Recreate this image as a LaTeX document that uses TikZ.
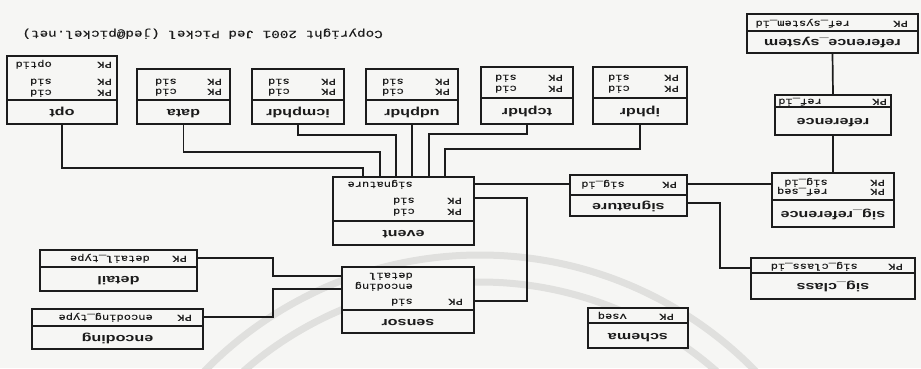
\documentclass[tikz,border=0pt]{standalone}
\usepackage{fontspec}
\newfontfamily\ttlfont[FakeStretch=1.4]{Liberation Sans}
\newfontfamily\fldfont[FakeStretch=1.3,FakeBold=0.4]{Liberation Mono}
\definecolor{bgc}{RGB}{246,246,244}
\definecolor{ink}{RGB}{28,28,28}
\definecolor{wmc}{RGB}{224,224,222}
\tikzset{
  tbl/.style={draw=ink, line width=1.7pt, inner sep=0pt, fill=bgc},
  ttl/.style={font=\ttlfont\bfseries\fontsize{11.5}{12}\selectfont, rotate=180, anchor=mid, inner sep=0pt, text=ink},
  fld/.style={font=\fldfont\fontsize{9.3}{10}\selectfont, rotate=180, anchor=mid west, inner sep=0pt, text=ink},
  conn/.style={draw=ink, line width=1.7pt},
  divline/.style={draw=ink, line width=1.7pt},
  wmline/.style={draw=wmc, line width=7pt},
  wmray/.style={draw=wmc, line width=3pt},
}
% name, x1, y1, x2, y2, ydiv, title
\newcommand\mktable[7]{%
  \node[tbl, minimum width={#4-#2}, minimum height={#5-#3}] (#1) at ({(#2+#4)/2},{(#3+#5)/2}) {};
  \draw[divline] (#2,#6) -- (#4,#6);
  \node[ttl] (#1-t) at ({(#2+#4)/2},{(#6+#5)/2}) {#7};
}
% name, xPK, xfield, y, field
\newcommand\pkrow[5]{%
  \node[fld] (#1-pk) at (#2,#4) {PK};
  \node[fld] (#1-f) at (#3,#4) {#5};
}
\begin{document}
\begin{tikzpicture}[x=1pt,y=-1pt]
\fill[bgc] (0,0) rectangle (921,368);
\useasboundingbox (0,0) rectangle (921,368);

% faint watermark
\begin{scope}
\clip (0,0) rectangle (921,368);
\draw[wmline] (480,640) circle [radius=385];
\draw[wmline] (480,640) circle [radius=358];
\foreach \a in {22,34,...,158} {
  \draw[wmray] (480,470) ++(\a:100) -- ++(\a:45);
}
\end{scope}

% copyright
\node[fld, font=\fldfont\fontsize{11}{12}\selectfont] (copy) at (383,33) {Copyright 2001 Jed Pickel (jed@pickel.net)};

% top row tables
\mktable{opt}{7}{56}{117}{124}{100}{opt}
\pkrow{opt1}{112}{52}{64}{optid}
\pkrow{opt2}{112}{52}{81}{sid}
\pkrow{opt3}{112}{52}{92}{cid}

\mktable{data}{137}{69}{230}{124}{100}{data}
\pkrow{data1}{222}{177}{81}{sid}
\pkrow{data2}{222}{177}{91}{cid}

\mktable{icmphdr}{252}{69}{344}{124}{100}{icmphdr}
\pkrow{icmp1}{336}{290}{81}{sid}
\pkrow{icmp2}{336}{290}{91}{cid}

\mktable{udphdr}{366}{69}{458}{124}{100}{udphdr}
\pkrow{udp1}{450}{404}{81}{sid}
\pkrow{udp2}{450}{404}{91}{cid}

\mktable{tcphdr}{481}{67}{573}{124}{98}{tcphdr}
\pkrow{tcp1}{563}{517}{77}{sid}
\pkrow{tcp2}{563}{517}{88}{cid}

\mktable{iphdr}{593}{67}{687}{124}{98}{iphdr}
\pkrow{ip1}{679}{630}{77}{sid}
\pkrow{ip2}{679}{630}{88}{cid}

% reference chain
\mktable{refsys}{747}{14}{918}{53}{31}{reference\_system}
\pkrow{rs1}{908}{850}{23}{ref\_system\_id}

\mktable{reference}{775}{95}{891}{135}{107}{reference}
\pkrow{rf1}{887}{822}{101}{ref\_id}

\mktable{sigref}{772}{173}{894}{227}{200}{sig\_reference}
\pkrow{sr1}{885}{828}{182}{sig\_id}
\pkrow{sr2}{885}{828}{191}{ref\_seq}

\mktable{signature}{570}{175}{687}{216}{195}{signature}
\pkrow{sg1}{677}{625}{184}{sig\_id}

\mktable{sigclass}{751}{258}{915}{299}{273}{sig\_class}
\pkrow{sc1}{903}{858}{266}{sig\_class\_id}

\mktable{schema}{588}{308}{688}{348}{323}{schema}
\pkrow{sh1}{674}{627}{316}{vseq}

% event
\mktable{event}{333}{177}{474}{245}{221}{event}
\node[fld] (ev-sig) at (413,184) {signature};
\pkrow{ev1}{462}{415}{200}{sid}
\pkrow{ev2}{462}{415}{211}{cid}

% sensor
\mktable{sensor}{342}{267}{474}{333}{310}{sensor}
\node[fld] (se-det) at (413,275) {detail};
\node[fld] (se-enc) at (413,286) {encoding};
\pkrow{se1}{463}{413}{301}{sid}

% detail, encoding
\mktable{detail}{40}{250}{197}{291}{267}{detail}
\pkrow{dt1}{187}{150}{258}{detail\_type}

\mktable{encoding}{32}{309}{203}{349}{326}{encoding}
\pkrow{en1}{192}{153}{317}{encoding\_type}

% connectors to event
\draw[conn] (opt.south) -- (62,168) -- (363,168) -- (event.north -| 363,0);
\draw[conn] (data.south) -- (183.5,152) -- (380,152) -- (event.north -| 380,0);
\draw[conn] (icmphdr.south) -- (298,135) -- (396,135) -- (event.north -| 396,0);
\draw[conn] (udphdr.south) -- (event.north -| 412,0);
\draw[conn] (tcphdr.south) -- (527,134) -- (429,134) -- (event.north -| 429,0);
\draw[conn] (iphdr.south) -- (640,149) -- (445,149) -- (event.north -| 445,0);

\draw[conn] (event.east |- 0,184) -- (signature.west |- 0,184);
\draw[conn] (event.east |- 0,198) -- (527,198) -- (527,301) -- (sensor.east |- 0,301);

\draw[conn] (signature.east |- 0,184) -- (sigref.west |- 0,184);
\draw[conn] (signature.east |- 0,203) -- (720,203) -- (720,268) -- (sigclass.west |- 0,268);

\draw[conn] (refsys.south) -- (reference.north);
\draw[conn] (reference.south) -- (sigref.north -| reference.south);

\draw[conn] (detail.east |- 0,258) -- (273,258) -- (273,276) -- (sensor.west |- 0,276);
\draw[conn] (encoding.east |- 0,317) -- (273,317) -- (273,289) -- (sensor.west |- 0,289);
\end{tikzpicture}
\end{document}
